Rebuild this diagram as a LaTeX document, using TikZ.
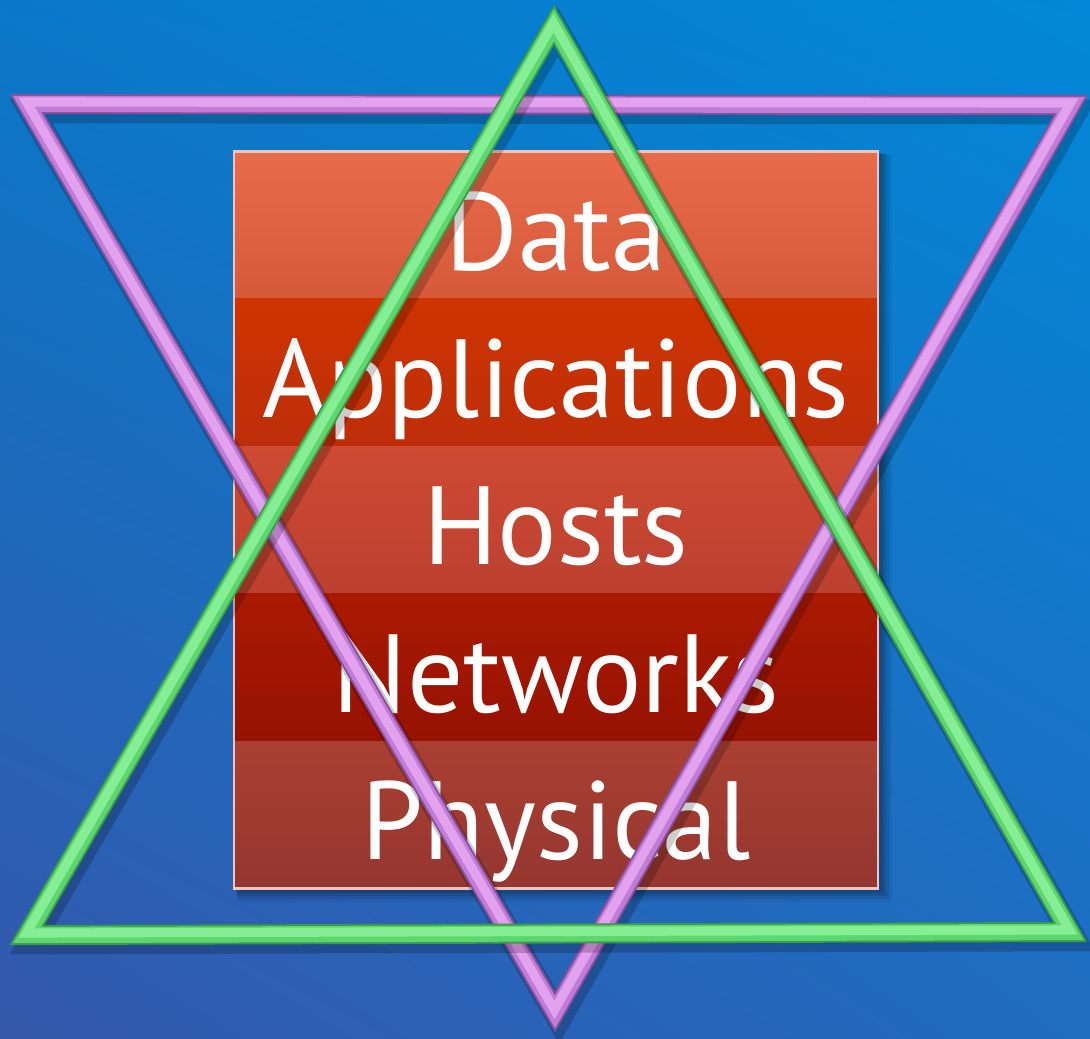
\documentclass[tikz,border=0pt]{standalone}
\usepackage{fontspec}
\setmainfont{PT Sans}
\usetikzlibrary{shadings}
\definecolor{bgTL}{HTML}{0A78C8}
\definecolor{bgTR}{HTML}{0288D8}
\definecolor{bgBL}{HTML}{3458AC}
\definecolor{bgBR}{HTML}{1F6CC0}
\definecolor{rimPink}{HTML}{F2C4BC}
\definecolor{grDark}{HTML}{3A9C46}
\definecolor{grMain}{HTML}{5ED66E}
\definecolor{grLight}{HTML}{86EE94}
\definecolor{puDark}{HTML}{86509C}
\definecolor{puMain}{HTML}{C27CD8}
\definecolor{puLight}{HTML}{E2A2EE}
\begin{document}
\begin{tikzpicture}[x=0.01cm,y=-0.01cm,line join=miter,miter limit=10,
  layertext/.style={text=white,font=\fontsize{31.6}{36}\selectfont,anchor=base,inner sep=0pt},
  rim/.style={draw=rimPink,line width=0.85pt},
  tubeshadow/.style={draw=black,line width=7pt,opacity=0.2},
  tubebase/.style={line width=5.7pt},
  tubemain/.style={line width=4.6pt},
  tubeshine/.style={line width=2.6pt}]
\useasboundingbox (0,0) rectangle (1090,1038);

% background
\shade[upper left=bgTL,upper right=bgTR,lower left=bgBL,lower right=bgBR]
  (0,0) rectangle (1090,1038);

% soft shadow behind the stack
\foreach \d/\o in {14/0.06,11/0.08,8/0.10,5/0.12}{
  \fill[black,opacity=\o] (234+\d*0.3,151+\d*0.3) rectangle (878+\d,888+\d);
}

% layer stack
\shade[top color={rgb,255:red,232;green,108;blue,76},bottom color={rgb,255:red,214;green,90;blue,58}]
  (234,151) rectangle (878,298);
\shade[top color={rgb,255:red,206;green,52;blue,0},bottom color={rgb,255:red,190;green,46;blue,10}]
  (234,298) rectangle (878,446);
\shade[top color={rgb,255:red,206;green,74;blue,50},bottom color={rgb,255:red,188;green,64;blue,48}]
  (234,446) rectangle (878,593);
\shade[top color={rgb,255:red,170;green,26;blue,2},bottom color={rgb,255:red,150;green,18;blue,2}]
  (234,593) rectangle (878,741);
\shade[top color={rgb,255:red,170;green,64;blue,50},bottom color={rgb,255:red,148;green,54;blue,48}]
  (234,741) rectangle (878,888);
\draw[rim] (234,151) rectangle (878,888);

\node[layertext] (data)  at (556,270) {Data};
\node[layertext] (apps)  at (556,417) {Applications};
\node[layertext] (hosts) at (556,564) {Hosts};
\node[layertext] (nets)  at (556,712) {Networks};
\node[layertext] (phys)  at (556,859) {Physical};

% triangle corners
\coordinate (pA) at (27,104);
\coordinate (pB) at (1071,105);
\coordinate (pC) at (555,1012);
\coordinate (gA) at (27,935);
\coordinate (gB) at (1070,932);
\coordinate (gC) at (554,25);

% downward (purple) triangle
\draw[tubeshadow] ([shift={(4,7)}]pA) -- ([shift={(4,7)}]pB) -- ([shift={(4,7)}]pC) -- cycle;
\draw[tubebase,draw=puDark] (pA) -- (pB) -- (pC) -- cycle;
\draw[tubemain,draw=puMain] (pA) -- (pB) -- (pC) -- cycle;
\draw[tubeshine,draw=puLight] ([shift={(-0.5,-2)}]pA) -- ([shift={(-0.5,-2)}]pB) -- ([shift={(-0.5,-2)}]pC) -- cycle;

% upward (green) triangle
\draw[tubeshadow] ([shift={(4,7)}]gA) -- ([shift={(4,7)}]gB) -- ([shift={(4,7)}]gC) -- cycle;
\draw[tubebase,draw=grDark] (gA) -- (gB) -- (gC) -- cycle;
\draw[tubemain,draw=grMain] (gA) -- (gB) -- (gC) -- cycle;
\draw[tubeshine,draw=grLight] ([shift={(-0.5,-2)}]gA) -- ([shift={(-0.5,-2)}]gB) -- ([shift={(-0.5,-2)}]gC) -- cycle;
\end{tikzpicture}
\end{document}
